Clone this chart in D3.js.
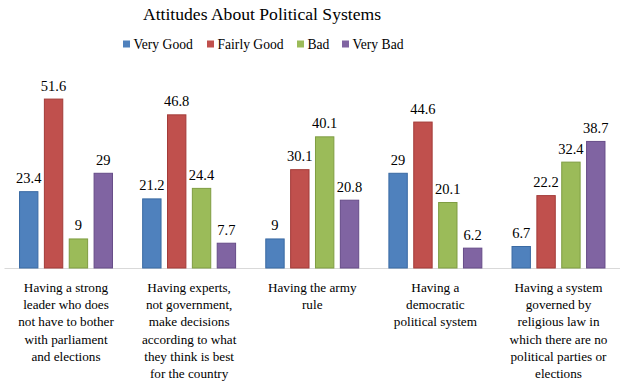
<!DOCTYPE html>
<html>
<head>
<meta charset="utf-8">
<script src="https://cdn.jsdelivr.net/npm/d3@7"></script>
<style>
  body { margin: 0; background: #fff; }
</style>
</head>
<body>
<div id="chart"></div>
<script>
// Data
const categories = [
    "Having a strong|leader who does|not have to bother|with parliament|and elections",
    "Having experts,|not government,|make decisions|according to what|they think is best|for the country",
    "Having the army|rule",
    "Having a|democratic|political system",
    "Having a system|governed by|religious law in|which there are no|political parties or|elections"
];
const seriesNames = ["Very Good", "Fairly Good", "Bad", "Very Bad"];
const veryGood = [23.4, 21.2, 9, 29, 6.7];
const fairlyGood = [51.6, 46.8, 30.1, 44.6, 22.2];
const bad = [9, 24.4, 40.1, 20.1, 32.4];
const veryBad = [29, 7.7, 20.8, 6.2, 38.7];
const colors = ["#4F81BD", "#C0504D", "#9BBB59", "#8064A2"];
const strokes = ["#3A6AA3", "#A33B38", "#7F9D42", "#664C88"];

const seriesValues = [veryGood, fairlyGood, bad, veryBad];

const width = 624, height = 386;
const plotLeft = 4.5, plotRight = 620, baseline = 268;
const fontFamily = "'Liberation Serif', 'Times New Roman', Times, serif";

const svg = d3.select("#chart")
    .append("svg")
    .attr("width", width)
    .attr("height", height)
    .attr("font-family", fontFamily)
    .style("font-family", fontFamily);

// Title
svg.append("text")
    .attr("x", 262)
    .attr("y", 20)
    .attr("text-anchor", "middle")
    .style("font-size", "17.6px")
    .text("Attitudes About Political Systems");

// Legend
const legendX = [123, 207, 297, 342];
const legend = svg.append("g");
seriesNames.forEach((name, i) => {
    legend.append("rect")
        .attr("x", legendX[i])
        .attr("y", 40.5)
        .attr("width", 7)
        .attr("height", 7)
        .attr("fill", colors[i]);
    legend.append("text")
        .attr("x", legendX[i] + 10.5)
        .attr("y", 48.5)
        .style("font-size", "13.6px")
        .text(name);
});

// Scales
const x0 = d3.scaleBand()
    .domain(d3.range(categories.length))
    .range([plotLeft, plotRight])
    .paddingInner(0.237)
    .paddingOuter(0.118);

const x1 = d3.scaleBand()
    .domain(d3.range(seriesNames.length))
    .range([0, x0.bandwidth()])
    .paddingInner(0.22);

const y = d3.scaleLinear()
    .domain([0, 60])
    .range([baseline, 71]);

// Axis line
svg.append("line")
    .attr("x1", plotLeft)
    .attr("x2", plotRight)
    .attr("y1", baseline + 0.5)
    .attr("y2", baseline + 0.5)
    .attr("stroke", "#d9d9d9")
    .attr("stroke-width", 1);

// Bars
const groups = svg.selectAll("g.group")
    .data(categories)
    .enter()
    .append("g")
    .attr("class", "group")
    .attr("transform", (d, i) => `translate(${x0(i)},0)`);

groups.each(function(cat, ci) {
    const g = d3.select(this);
    seriesValues.forEach((vals, si) => {
        const v = vals[ci];
        g.append("rect")
            .attr("x", x1(si) + 0.5)
            .attr("y", y(v) + 0.5)
            .attr("width", x1.bandwidth() - 1)
            .attr("height", baseline - y(v) - 0.5)
            .attr("fill", colors[si])
            .attr("stroke", strokes[si])
            .attr("stroke-width", 1);
        g.append("text")
            .attr("x", x1(si) + x1.bandwidth() / 2)
            .attr("y", y(v) - 8)
            .attr("text-anchor", "middle")
            .style("font-size", "14.5px")
            .text(v);
    });

    // Category label
    const lines = cat.split("|");
    const label = g.append("text")
        .attr("text-anchor", "middle")
        .style("font-size", "13.2px");
    lines.forEach((line, li) => {
        label.append("tspan")
            .attr("x", x0.bandwidth() / 2)
            .attr("y", 292 + li * 17.2)
            .text(line);
    });
});
</script>
</body>
</html>
